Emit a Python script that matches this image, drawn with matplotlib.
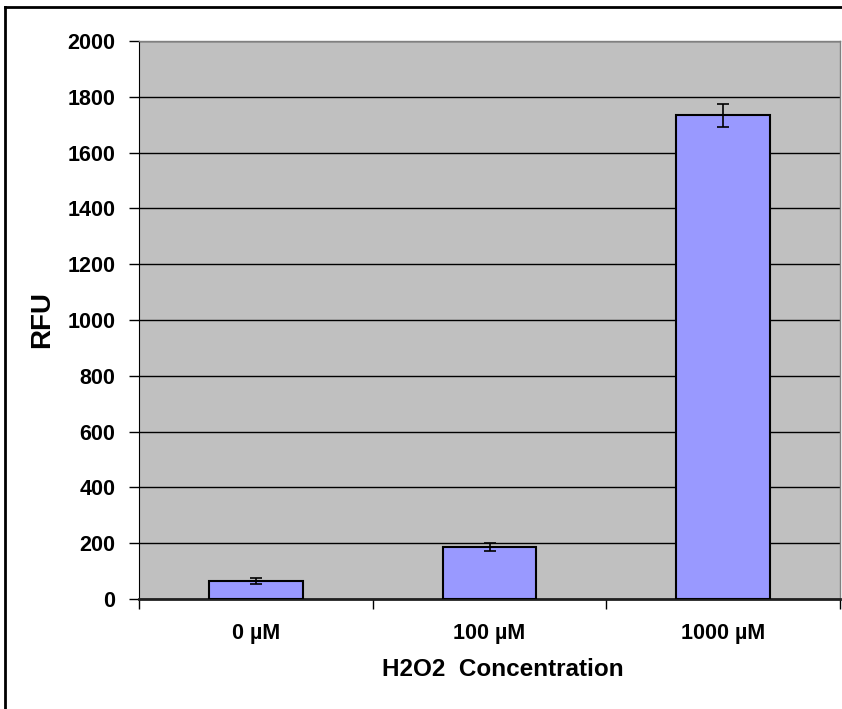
import matplotlib
matplotlib.use("Agg")
import matplotlib.pyplot as plt
from matplotlib.lines import Line2D
import numpy as np

categories = ['0 µM', '100 µM', '1000 µM']
rfu = [64, 186, 1733]
rfu_err = [12, 15, 40]
y_ticks = [0, 200, 400, 600, 800, 1000, 1200, 1400, 1600, 1800, 2000]

plt.rcParams['font.family'] = ['Liberation Sans', 'DejaVu Sans']
plt.rcParams['font.weight'] = 'bold'

fig = plt.figure(figsize=(8.42, 7.09), dpi=100)
ax = fig.add_axes([139/842, 1-599/709, 701/842, 558/709])
ax.set_facecolor('#C0C0C0')

x = np.arange(len(categories))
ax.bar(x, rfu, 0.4, color='#9999FF', edgecolor='black', linewidth=1.5, zorder=3)
ax.errorbar(x, rfu, yerr=rfu_err, fmt='none', ecolor='black', elinewidth=1.2,
            capsize=4, capthick=1.2, zorder=4)

ax.set_xlim(-0.5, len(categories)-0.5)
ax.set_ylim(0, 2000)
ax.set_yticks(y_ticks)
ax.set_yticklabels([str(v) for v in y_ticks], fontsize=15.5, fontweight='bold')
ax.yaxis.grid(True, color='black', linewidth=1)
ax.set_axisbelow(True)

ax.set_xticks(x)
ax.set_xticklabels(categories, fontsize=15.5, fontweight='bold')
ax.tick_params(axis='x', length=0, pad=17)
ax.set_xticks(np.arange(-0.5, len(categories), 1), minor=True)
ax.tick_params(axis='x', which='minor', length=7, width=1, direction='out')
ax.tick_params(axis='y', length=7, width=1, direction='out', pad=10)

for s in ['top', 'right']:
    ax.spines[s].set_color('#808080')
    ax.spines[s].set_linewidth(1)
ax.spines['left'].set_color('black')
ax.spines['bottom'].set_color('#202020')
ax.spines['bottom'].set_linewidth(2)

ax.set_ylabel('RFU', fontsize=20, fontweight='bold', labelpad=9)
ax.set_xlabel('H2O2  Concentration', fontsize=17.5, fontweight='bold')
ax.xaxis.set_label_coords(0.519, -0.106)

fig.add_artist(Line2D([5/842, 5/842], [0, 1-7/709], color='black', linewidth=2, transform=fig.transFigure))
fig.add_artist(Line2D([5/842, 1], [1-7/709, 1-7/709], color='black', linewidth=2, transform=fig.transFigure))

fig.savefig('out.png', dpi=100)
